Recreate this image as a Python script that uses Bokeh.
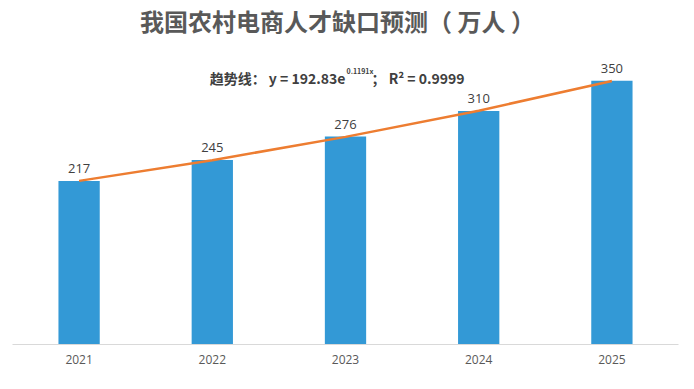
from bokeh.plotting import figure
from bokeh.models import ColumnDataSource, Range1d, Label, FactorRange
from bokeh.core.properties import value
from bokeh.embed import file_html
from bokeh.resources import INLINE

years = ["2021", "2022", "2023", "2024", "2025"]
gap = [217, 245, 276, 310, 350]
trend = [217.2, 244.7, 275.6, 310.4, 349.7]
title_text = "我国农村电商人才缺口预测（ 万人 ）"
eq_main = "趋势线： y = 192.83e"
eq_exp = "0.1191x"
eq_tail = "；  R² = 0.9999"

src = ColumnDataSource(dict(x=years, y=gap, t=trend, lbl=[str(v) for v in gap]))

p = figure(x_range=FactorRange(*years, range_padding=0), y_range=Range1d(0, 446),
           width=690, height=380, output_backend="svg", toolbar_location=None,
           min_border_left=12, min_border_right=12, min_border_top=8, min_border_bottom=36)
p.outline_line_color = None
p.xgrid.visible = False
p.ygrid.visible = False
p.yaxis.visible = False

p.vbar(x="x", top="y", width=0.31, source=src, fill_color="#3399D6", line_color=None)
p.line(x="x", y="t", source=src, line_color="#ED7D31", line_width=2.5)
p.text(x="x", y="y", text="lbl", source=src, text_align="center", text_baseline="bottom",
       y_offset=-8, text_font=value("Open Sans"), text_font_size="13px", text_color="#404040")

xa = p.xaxis[0]
xa.axis_line_color = "#D9D9D9"
xa.axis_line_width = 1
xa.major_tick_line_color = None
xa.minor_tick_line_color = None
xa.major_tick_out = 0
xa.major_tick_in = 0
xa.major_label_standoff = 10
xa.major_label_text_font = "Open Sans"
xa.major_label_text_font_size = "12px"
xa.major_label_text_color = "#595959"

p.add_layout(Label(x=2.44, y=430, text=title_text, text_align="center", text_baseline="middle",
                   text_font="Noto Sans CJK SC", text_font_size="24px", text_font_style="bold",
                   text_color="#595959"))
p.add_layout(Label(x=2.5, y=354, text=eq_main, text_align="right", text_baseline="middle",
                   text_font="Noto Sans CJK SC", text_font_size="14px", text_font_style="bold",
                   text_color="#404040"))
p.add_layout(Label(x=2.5, y=363, x_offset=1, text=eq_exp, text_align="left", text_baseline="middle",
                   text_font="Noto Sans CJK SC", text_font_size="7px", text_font_style="bold",
                   text_color="#404040"))
p.add_layout(Label(x=2.695, y=354, text=eq_tail, text_align="left", text_baseline="middle",
                   text_font="Noto Sans CJK SC", text_font_size="14px", text_font_style="bold",
                   text_color="#404040"))

open("out.html", "w").write(file_html(p, INLINE))
